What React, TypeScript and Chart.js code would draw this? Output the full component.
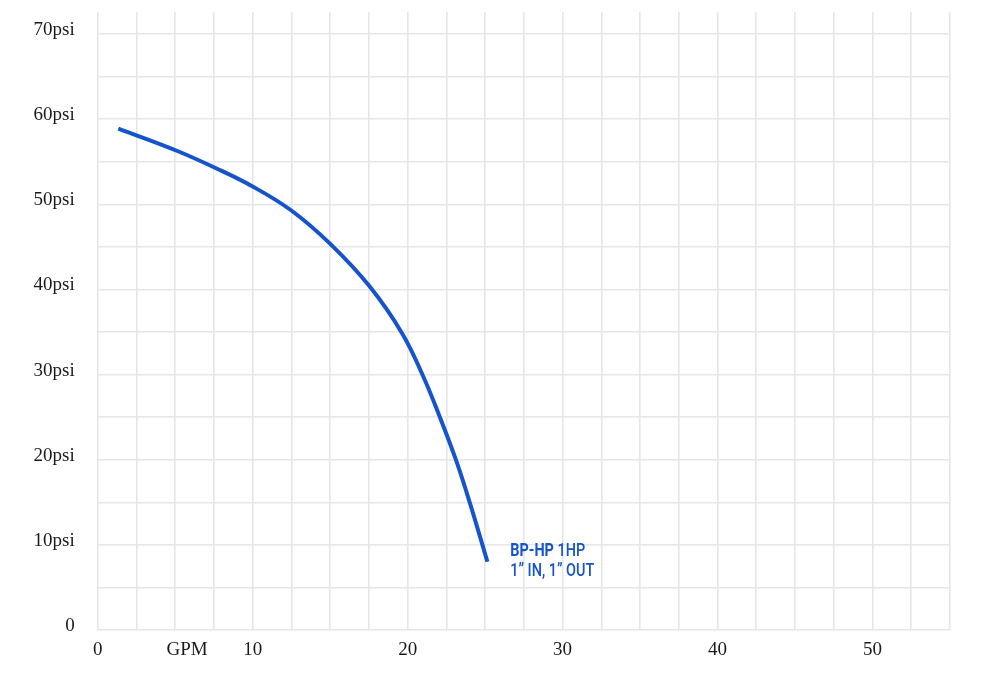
import React, { useEffect, useRef } from "react";
import { Chart, registerables } from "chart.js";

Chart.register(...registerables);

// Pump curve: flow (GPM) vs pressure (psi)
const gpm = [1.33, 5.1, 7.57, 10.0, 12.52, 15.04, 17.53, 19.63, 20.98, 22.1, 23.13, 24.03, 25.15];
const psi = [58.9, 56.3, 54.3, 52.1, 49.25, 45.3, 40.4, 34.9, 29.9, 24.92, 19.92, 14.85, 8.02];

const xMajorTicks = [0, 10, 20, 30, 40, 50];
const yMajorTicks = [0, 10, 20, 30, 40, 50, 60, 70];
const xUnitLabel = "GPM";
const xUnitAt = 5.77;
const seriesName = "BP-HP";
const seriesPower = "1HP";
const seriesPorts = "1\u201D IN, 1\u201D OUT";
const noteAt = { x: 26.62, y: 8.72 };

const BLUE = "#1554cc";
const GRID = "#e6e6e6";
const TEXT = "#1a1a1a";
const SERIF = "'Liberation Serif', 'DejaVu Serif', serif";

const annotations = {
  id: "annotations",
  afterDraw(chart: any) {
    const { ctx, scales, chartArea } = chart;
    const xs = scales.x;
    const ys = scales.y;
    ctx.save();
    ctx.font = `19px ${SERIF}`;
    ctx.fillStyle = TEXT;
    ctx.textAlign = "center";
    ctx.textBaseline = "middle";
    ctx.fillText(xUnitLabel, xs.getPixelForValue(xUnitAt), chartArea.bottom + 9 + 11.4);

    const px = xs.getPixelForValue(noteAt.x);
    const py = ys.getPixelForValue(noteAt.y);
    const sx = 0.76;
    ctx.fillStyle = BLUE;
    ctx.textAlign = "left";
    ctx.textBaseline = "alphabetic";
    ctx.translate(px, py);
    ctx.scale(sx, 1);
    ctx.font = `bold 19px Roboto, 'Noto Sans', sans-serif`;
    ctx.fillText(seriesName, 0, 0);
    const w = ctx.measureText(seriesName + " ").width;
    ctx.font = `500 19px Roboto, 'Noto Sans', sans-serif`;
    ctx.fillText(seriesPower, w, 0);
    ctx.fillText(seriesPorts, 0, 20.5);
    ctx.restore();
  },
};

const zeroPad = (s: any) => {
  s.paddingTop = 0;
  s.paddingBottom = 0;
  s.paddingLeft = 0;
  s.paddingRight = 0;
};

export default function App() {
  const ref = useRef<HTMLCanvasElement | null>(null);
  useEffect(() => {
    if (!ref.current) return;
    const chart = new Chart(ref.current, {
      type: "line",
      data: {
        datasets: [
          {
            label: seriesName,
            data: gpm.map((x, i) => ({ x, y: psi[i] })),
            borderColor: BLUE,
            borderWidth: 4,
            pointRadius: 0,
            tension: 0.4,
            fill: false,
          },
        ],
      },
      options: {
        animation: false,
        responsive: true,
        maintainAspectRatio: false,
        layout: { padding: { top: 4, right: 28, left: 0, bottom: 0 } },
        plugins: { legend: { display: false }, tooltip: { enabled: false } },
        scales: {
          x: {
            type: "linear",
            min: 0,
            max: 55,
            border: { display: false },
            grid: { color: GRID, lineWidth: 1.6, drawTicks: false },
            afterFit: (s: any) => {
              s.height = 62;
              zeroPad(s);
            },
            ticks: {
              stepSize: 2.5,
              padding: 9,
              maxRotation: 0,
              autoSkip: false,
              color: TEXT,
              font: { family: SERIF, size: 19 },
              callback: (v: any) => (xMajorTicks.includes(Number(v)) ? String(v) : ""),
            },
          },
          y: {
            type: "linear",
            min: 0,
            max: 72.6,
            border: { display: false },
            grid: { color: GRID, lineWidth: 1.6, drawTicks: false },
            afterFit: (s: any) => {
              s.width = 89.7;
              zeroPad(s);
            },
            ticks: {
              stepSize: 5,
              includeBounds: false,
              padding: 23,
              labelOffset: -4,
              autoSkip: false,
              color: TEXT,
              font: { family: SERIF, size: 19 },
              callback: (v: any) => {
                const n = Number(v);
                if (!yMajorTicks.includes(n)) return "";
                return n === 0 ? "0" : `${n}psi`;
              },
            },
          },
        },
      },
      plugins: [annotations],
    });
    return () => chart.destroy();
  }, []);
  return (
    <div style={{ width: 970, height: 684, position: "relative" }}>
      <canvas ref={ref} />
    </div>
  );
}
